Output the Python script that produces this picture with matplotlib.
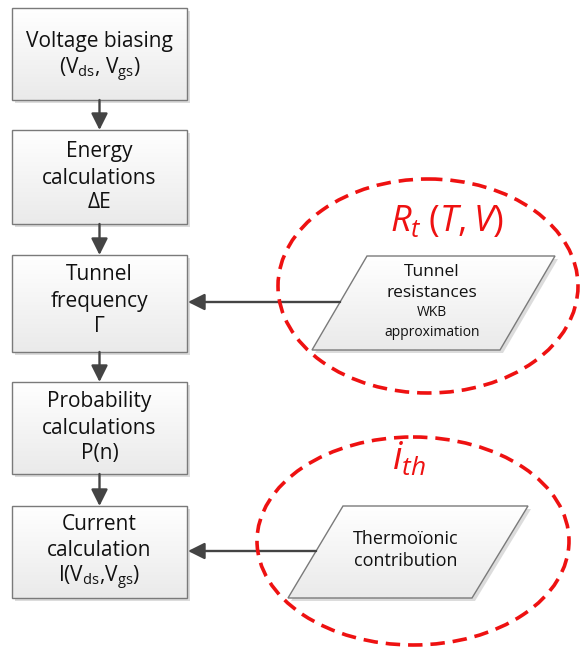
import numpy as np
import matplotlib
matplotlib.use("Agg")
import matplotlib.pyplot as plt
import matplotlib.patches as patches

plt.rcParams['font.family'] = ['Open Sans', 'DejaVu Sans']
plt.rcParams['mathtext.fontset'] = 'custom'
plt.rcParams['mathtext.rm'] = 'Open Sans'
plt.rcParams['mathtext.it'] = 'Open Sans:italic'

# flowchart content
etapas = [
    ["Voltage biasing", r"(V$_\mathrm{ds}$, V$_\mathrm{gs}$)"],
    ["Energy", "calculations", "ΔE"],
    ["Tunnel", "frequency", "Γ"],
    ["Probability", "calculations", "P(n)"],
    ["Current", "calculation", r"I(V$_\mathrm{ds}$,V$_\mathrm{gs}$)"],
]
entradas = [
    ["Tunnel", "resistances", "WKB", "approximation"],
    ["Thermoïonic", "contribution"],
]
etiquetas = [r"$R_t\;(T,V)$", r"$i_{th}$"]

# layout (pixels)
W, H = 580, 649
caja_x = (12, 187)
caja_y = [(8, 100), (130, 224), (255, 352), (382, 474), (506, 598)]
caja_txt = [[41, 70], [152, 178, 203], [275, 301, 326], [402, 428, 453], [524, 551, 578]]

# parallelograms: (top-left x, top-right x, bottom-left x, bottom-right x, top y, bottom y)
para = [(367, 555, 312, 500, 256, 350), (343, 528, 288, 472, 506, 598)]
para_txt = [[(432, 272, 12.5), (432, 293, 12.5), (432, 313, 10), (432, 332, 10)],
            [(406, 539, 13), (406, 561, 13)]]
para_flecha = [(2, 302), (4, 551)]   # (target box, y)
elipses = [(428, 286, 300, 214), (413, 541, 312, 208)]
etiq_pos = [(447, 222, 26), (409, 460, 27)]

gris = '#444444'
rojo = '#ee1111'

fig = plt.figure(figsize=(W / 100, H / 100), dpi=100)
ax = fig.add_axes([0, 0, 1, 1])
ax.set_xlim(0, W)
ax.set_ylim(H, 0)
ax.axis('off')

grad = np.linspace(1, 0, 64).reshape(-1, 1)
cmap = matplotlib.colors.LinearSegmentedColormap.from_list('g', ['#eaeaea', '#ffffff'])


def figura_con_gradiente(poly, sombra=3):
    sh = patches.Polygon(np.array(poly) + sombra, closed=True, fc='#d4d4d4', ec='none', alpha=0.8, zorder=1)
    ax.add_patch(sh)
    p = patches.Polygon(poly, closed=True, fc='none', ec='#7a7a7a', lw=1.0, zorder=3)
    ax.add_patch(p)
    xs = [q[0] for q in poly]
    ys = [q[1] for q in poly]
    im = ax.imshow(grad, cmap=cmap, extent=(min(xs), max(xs), max(ys), min(ys)),
                   aspect='auto', zorder=2, vmin=0, vmax=1)
    im.set_clip_path(p)


for i, lineas in enumerate(etapas):
    y0, y1 = caja_y[i]
    x0, x1 = caja_x
    figura_con_gradiente([(x0, y0), (x1, y0), (x1, y1), (x0, y1)])
    for t, yy in zip(lineas, caja_txt[i]):
        ax.text((x0 + x1) / 2, yy, t, ha='center', va='center', fontsize=15, color='#111111', zorder=5)
    if i < len(etapas) - 1:
        ax.annotate('', xy=((x0 + x1) / 2, caja_y[i + 1][0]), xytext=((x0 + x1) / 2, y1),
                    arrowprops=dict(arrowstyle='-|>,head_length=1.0,head_width=0.5', color=gris, lw=1.7,
                                    shrinkA=0, shrinkB=0), zorder=4)

for k, lineas in enumerate(entradas):
    tl, tr, bl, br, yt, yb = para[k]
    figura_con_gradiente([(tl, yt), (tr, yt), (br, yb), (bl, yb)])
    for t, (xx, yy, fs) in zip(lineas, para_txt[k]):
        ax.text(xx, yy, t, ha='center', va='center', fontsize=fs, color='#111111', zorder=5)
    caja, yf = para_flecha[k]
    xs = bl + (tl - bl) * (yb - yf) / (yb - yt)
    ax.annotate('', xy=(caja_x[1] + 1, yf), xytext=(xs, yf),
                arrowprops=dict(arrowstyle='-|>,head_length=1.0,head_width=0.5', color=gris, lw=1.7,
                                shrinkA=0, shrinkB=0), zorder=4)
    cx, cy, ew, eh = elipses[k]
    ax.add_patch(patches.Ellipse((cx, cy), ew, eh, fc='none', ec=rojo, lw=2.6,
                                 linestyle=(0, (4, 2.2)), zorder=6, clip_on=False))
    ex, ey, fs = etiq_pos[k]
    ax.text(ex, ey, etiquetas[k], ha='center', va='center', fontsize=fs, color=rojo, zorder=7)

fig.savefig('out.png', dpi=100)
